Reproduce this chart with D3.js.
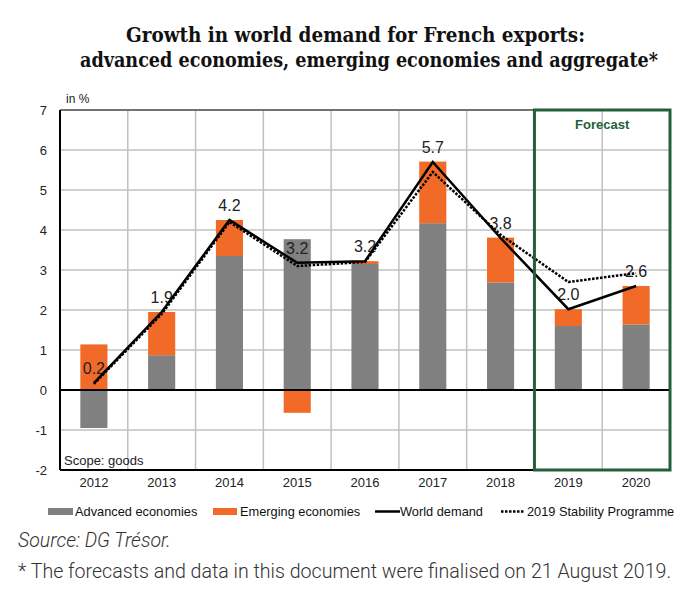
<!DOCTYPE html>
<html>
<head>
<meta charset="utf-8">
<script src="https://cdn.jsdelivr.net/npm/d3@7"></script>
<style>
  html, body { margin: 0; padding: 0; background: #fff; }
  svg { display: block; }
</style>
</head>
<body>
<svg id="chart" width="692" height="599"></svg>
<script>
const years = ["2012","2013","2014","2015","2016","2017","2018","2019","2020"];
const advanced = [-0.95, 0.87, 3.35, 3.77, 3.15, 4.17, 2.69, 1.60, 1.64];
const emerging = [1.14, 1.08, 0.90, -0.57, 0.07, 1.54, 1.12, 0.42, 0.96];
const worldDemand = [0.17, 1.95, 4.25, 3.18, 3.22, 5.70, 3.80, 2.02, 2.60];
const stabilityProgramme = [0.15, 1.90, 4.20, 3.10, 3.20, 5.45, 3.88, 2.70, 2.92];
const valueLabels = ["0.2","1.9","4.2","3.2","3.2","5.7","3.8","2.0","2.6"];
const yTicks = [-2, -1, 0, 1, 2, 3, 4, 5, 6, 7];
const forecastYears = ["2019","2020"];

const titleLines = ["Growth in world demand for French exports:",
                    "advanced economies, emerging economies and aggregate*"];
const legendItems = ["Advanced economies","Emerging economies","World demand","2019 Stability Programme"];

const C_ADV = "#808080", C_EM = "#F26A27", C_GREEN = "#22603A";

const svg = d3.select("#chart");
const L = 60, R = 670, T = 110, B = 470;

const x = d3.scaleBand().domain(years).range([L, R]).paddingInner(0.6).paddingOuter(0.3);
const y = d3.scaleLinear().domain([-2, 7]).range([B, T]);
const step = x.step();
const cx = d => x(d) + x.bandwidth() / 2;

// Title
const titleFont = "'DejaVu Serif Condensed', 'DejaVu Serif', serif";
svg.append("text").attr("x", 126).attr("y", 42)
  .attr("textLength", 459).attr("lengthAdjust", "spacingAndGlyphs")
  .style("font-family", titleFont).style("font-weight", "bold")
  .style("font-size", "20px").attr("fill", "#111").text(titleLines[0]);
svg.append("text").attr("x", 80).attr("y", 67)
  .attr("textLength", 578).attr("lengthAdjust", "spacingAndGlyphs")
  .style("font-family", titleFont).style("font-weight", "bold")
  .style("font-size", "20px").attr("fill", "#111").text(titleLines[1]);

// Gridlines
const g = svg.append("g");
g.selectAll("line.h").data(yTicks).join("line")
  .attr("x1", L).attr("x2", R).attr("y1", d => y(d)).attr("y2", d => y(d))
  .attr("stroke", "#c0c0c0").attr("stroke-width", 1.5);
g.selectAll("line.v").data(years.slice(1)).join("line")
  .attr("x1", d => x(d) - step * 0.3).attr("x2", d => x(d) - step * 0.3)
  .attr("y1", T).attr("y2", B)
  .attr("stroke", "#c0c0c0").attr("stroke-width", 1.5);
// Top border
svg.append("line").attr("x1", L).attr("x2", R).attr("y1", T).attr("y2", T)
  .attr("stroke", "#555").attr("stroke-width", 1.5);

// Bars
const barsG = svg.append("g");
years.forEach((yr, i) => {
  const a = advanced[i], e = emerging[i];
  barsG.append("rect").attr("x", x(yr)).attr("width", x.bandwidth())
    .attr("y", y(Math.max(0, a))).attr("height", Math.abs(y(a) - y(0)))
    .attr("fill", C_ADV);
  let base;
  if (e >= 0) base = a >= 0 ? a : 0; else base = a < 0 ? a : 0;
  const top = base + e;
  barsG.append("rect").attr("x", x(yr)).attr("width", x.bandwidth())
    .attr("y", y(Math.max(base, top))).attr("height", Math.abs(y(top) - y(base)))
    .attr("fill", C_EM);
});

// Zero line, axes
svg.append("line").attr("x1", L).attr("x2", R).attr("y1", y(0)).attr("y2", y(0))
  .attr("stroke", "#000").attr("stroke-width", 2);
svg.append("line").attr("x1", L).attr("x2", R).attr("y1", B).attr("y2", B)
  .attr("stroke", "#000").attr("stroke-width", 2);
svg.append("line").attr("x1", L).attr("x2", L).attr("y1", T).attr("y2", B)
  .attr("stroke", "#000").attr("stroke-width", 2);

// Y axis labels
const yAxis = d3.axisLeft(y).tickValues(yTicks).tickSize(0).tickPadding(13).tickFormat(d => String(d));
const ya = svg.append("g").attr("transform", `translate(${L},0)`).call(yAxis);
ya.select(".domain").remove();
ya.selectAll("text").style("font-family", "'Liberation Sans', Arial, sans-serif")
  .style("font-size", "13px").attr("fill", "#222");

// X axis labels
const xAxis = d3.axisBottom(x).tickSize(0).tickPadding(8);
const xa = svg.append("g").attr("transform", `translate(0,${B})`).call(xAxis);
xa.select(".domain").remove();
xa.selectAll("text").style("font-family", "'Liberation Sans', Arial, sans-serif")
  .style("font-size", "13px").attr("fill", "#222");

// Labels inside
svg.append("text").attr("x", 66).attr("y", 103).text("in %")
  .style("font-family", "'Liberation Sans', Arial, sans-serif").style("font-size", "12px").attr("fill", "#222");
svg.append("text").attr("x", 64).attr("y", 465).text("Scope: goods")
  .style("font-family", "'Liberation Sans', Arial, sans-serif").style("font-size", "13px").attr("fill", "#222");

// Value labels
svg.append("g").selectAll("text").data(years).join("text")
  .attr("x", d => cx(d)).attr("y", (d, i) => y(worldDemand[i]) - 9)
  .attr("text-anchor", "middle")
  .style("font-family", "'Liberation Sans', Arial, sans-serif").style("font-size", "16px")
  .attr("fill", "#222").text((d, i) => valueLabels[i]);

// Lines
const line = d3.line().x(d => cx(d[0])).y(d => y(d[1]));
svg.append("path").datum(years.map((d, i) => [d, stabilityProgramme[i]]))
  .attr("d", line).attr("fill", "none").attr("stroke", "#000")
  .attr("stroke-width", 2.5).attr("stroke-dasharray", "2.5 1.5");
svg.append("path").datum(years.map((d, i) => [d, worldDemand[i]]))
  .attr("d", line).attr("fill", "none").attr("stroke", "#000")
  .attr("stroke-width", 2.5).attr("stroke-linejoin", "miter");

// Forecast box
const fx0 = x(forecastYears[0]) - step * 0.3;
svg.append("rect").attr("x", fx0).attr("y", T).attr("width", R - fx0).attr("height", B - T)
  .attr("fill", "none").attr("stroke", C_GREEN).attr("stroke-width", 3);
svg.append("text").attr("x", (fx0 + R) / 2).attr("y", 129).attr("text-anchor", "middle")
  .style("font-family", "'Liberation Sans', Arial, sans-serif").style("font-weight", "bold")
  .style("font-size", "13px").attr("fill", C_GREEN).text("Forecast");

// Legend
const lg = svg.append("g").style("font-family", "'Liberation Sans', Arial, sans-serif").style("font-size", "12.8px");
lg.append("rect").attr("x", 48).attr("y", 508).attr("width", 25).attr("height", 7).attr("fill", C_ADV);
lg.append("text").attr("x", 75).attr("y", 516).attr("fill", "#111").text(legendItems[0]);
lg.append("rect").attr("x", 213).attr("y", 508).attr("width", 24).attr("height", 7).attr("fill", C_EM);
lg.append("text").attr("x", 240).attr("y", 516).attr("fill", "#111").text(legendItems[1]);
lg.append("line").attr("x1", 375).attr("x2", 400).attr("y1", 511.5).attr("y2", 511.5)
  .attr("stroke", "#000").attr("stroke-width", 2.5);
lg.append("text").attr("x", 400).attr("y", 516).attr("fill", "#111").text(legendItems[2]);
lg.append("line").attr("x1", 501).attr("x2", 525).attr("y1", 511.5).attr("y2", 511.5)
  .attr("stroke", "#000").attr("stroke-width", 2.5).attr("stroke-dasharray", "2.5 1.5");
lg.append("text").attr("x", 527).attr("y", 516).attr("fill", "#111").text(legendItems[3]);

// Source & footnote
svg.append("text").attr("x", 18).attr("y", 547)
  .style("font-family", "Roboto, sans-serif").style("font-weight", 300).style("font-style", "italic")
  .style("font-size", "19.5px").attr("fill", "#333").text("Source: DG Trésor.");
svg.append("text").attr("x", 18).attr("y", 578)
  .style("font-family", "Roboto, sans-serif").style("font-weight", 300)
  .style("font-size", "19.6px").attr("fill", "#333")
  .text("* The forecasts and data in this document were finalised on 21 August 2019.");
</script>
</body>
</html>
